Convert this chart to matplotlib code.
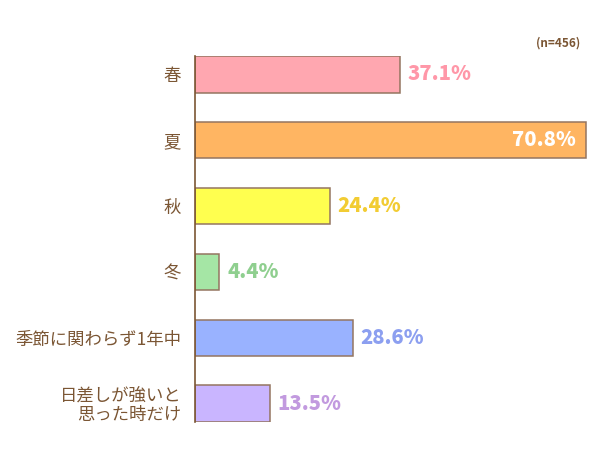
import matplotlib
matplotlib.use("Agg")
import matplotlib.pyplot as plt

plt.rcParams['font.family'] = ['Noto Sans CJK JP', 'DejaVu Sans']

# datos del gráfico
categorias = ["春", "夏", "秋", "冬", "季節に関わらず1年中", "日差しが強いと\n思った時だけ"]
valores = [37.1, 70.8, 24.4, 4.4, 28.6, 13.5]
colores = ["#FFA7B0", "#FFB562", "#FFFF4F", "#A5E6A5", "#99B2FF", "#C9B5FF"]
colores_texto = ["#FF97A8", "#FFFFFF", "#F2CC33", "#8FCF8F", "#8C9FF0", "#C29ADF"]
muestra = "(n=456)"

marron = "#7B5634"

fig = plt.figure(figsize=(6, 4.65), dpi=100)
ax = fig.add_axes([195 / 600, 1 - 422 / 465, 400 / 600, (422 - 56) / 465])

pos = range(len(categorias))
ax.barh(pos, valores, height=0.55, color=colores, edgecolor="#947560", linewidth=1.1)
ax.set_ylim(len(categorias) - 1 + 0.275 + 0.005, -0.275 - 0.005)
ax.set_xlim(0, 400 / 5.52)

ax.set_yticks(list(pos))
ax.set_yticklabels(categorias, fontsize=12.5, color=marron, linespacing=1.05)
ax.tick_params(axis="y", length=0, pad=10)
ax.set_xticks([])
for lado in ["top", "right", "bottom"]:
    ax.spines[lado].set_visible(False)
ax.spines["left"].set_color(marron)
ax.spines["left"].set_linewidth(1.2)

# etiquetas de valores
for i, v in enumerate(valores):
    if i == 1:
        ax.text(v - 1.8, i, f"{v}%", ha="right", va="center", fontsize=14.5,
                fontweight="heavy", color=colores_texto[i])
    else:
        ax.text(v + 1.4, i, f"{v}%", ha="left", va="center", fontsize=14.5,
                fontweight="heavy", color=colores_texto[i])

fig.text(580 / 600, 1 - 43 / 465, muestra, ha="right", va="center", fontsize=8.5,
         fontweight="bold", color=marron)

fig.savefig("out.png", dpi=100)
